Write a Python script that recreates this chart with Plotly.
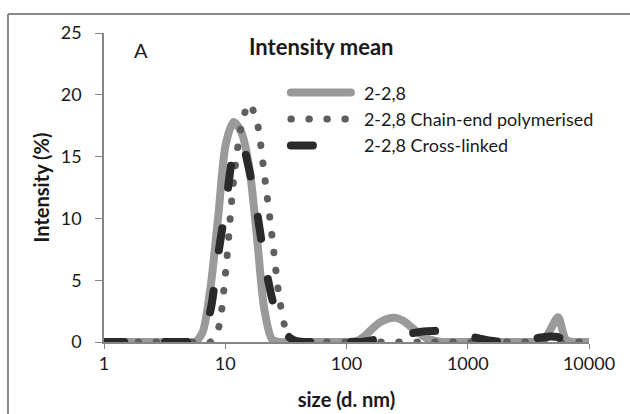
import plotly.graph_objects as go

# DLS size bins (d. nm)
sizes = [0.9649, 1.117, 1.294, 1.499, 1.736, 2.010, 2.328, 2.696, 3.122, 3.615,
         4.187, 4.849, 5.615, 6.503, 7.531, 8.721, 10.10, 11.70, 13.54, 15.69,
         18.17, 21.04, 24.36, 28.21, 32.67, 37.84, 43.82, 50.75, 58.77, 68.06,
         78.82, 91.28, 105.7, 122.4, 141.8, 164.2, 190.1, 220.2, 255.0, 295.3,
         342.0, 396.1, 458.7, 531.2, 615.1, 712.4, 825.0, 955.4, 1106, 1281,
         1484, 1718, 1990, 2305, 2669, 3091, 3580, 4145, 4801, 5560,
         6439, 7456, 8635, 10000]

# Intensity (%)
plain = [0, 0, 0, 0, 0, 0, 0, 0, 0, 0,
         0, 0, 0, 0.8, 4.3, 10.0, 16.0, 17.8, 17.0, 14.3,
         8.7, 2.6, 0.2, 0, 0, 0, 0, 0, 0, 0,
         0, 0, 0, 0.1, 0.5, 1.1, 1.6, 1.9, 1.95, 1.7,
         1.2, 0.7, 0.3, 0.1, 0, 0, 0, 0, 0, 0,
         0, 0, 0, 0, 0, 0, 0, 0, 1.0, 2.0,
         0.2, 0, 0, 0]

chain_end = [0, 0, 0, 0, 0, 0, 0, 0, 0, 0,
             0, 0, 0, 0, 0, 1.0, 5.8, 13.0, 17.4, 19.3,
             17.9, 13.5, 8.5, 3.3, 0.6, 0, 0, 0, 0, 0,
             0, 0, 0, 0, 0, 0, 0, 0, 0, 0,
             0, 0, 0, 0, 0, 0, 0, 0, 0, 0,
             0, 0, 0, 0, 0, 0, 0, 0, 0, 0,
             0, 0, 0, 0]

cross_linked = [0, 0, 0, 0, 0, 0, 0, 0, 0, 0,
                0, 0, 0.1, 0.7, 2.5, 7.0, 11.0, 15.2, 16.2, 14.0,
                10.7, 6.6, 3.5, 1.4, 0.5, 0.1, 0, 0, 0, 0,
                0, 0, 0, 0, 0.05, 0.15, 0.3, 0.42, 0.5, 0.6,
                0.7, 0.8, 0.88, 0.9, 0.9, 0.85, 0.7, 0.55, 0.4, 0.25,
                0.12, 0.05, 0, 0, 0.1, 0.2, 0.3, 0.38, 0.45, 0.4,
                0.1, 0, 0, 0]

names = ["2-2,8", "2-2,8 Chain-end polymerised", "2-2,8 Cross-linked"]
x_ticks = [1, 10, 100, 1000, 10000]
x_ticklabels = ["1", "10", "100", "1000", "10000"]

FONT = "Lato, 'Open Sans', sans-serif"
TXT = "#1a1a1a"

fig = go.Figure()
fig.add_trace(go.Scatter(x=sizes, y=plain, name=names[0], mode="lines",
                         line=dict(color="#9a9a9a", width=8, shape="spline", smoothing=0.8)))
fig.add_trace(go.Scatter(x=sizes, y=chain_end, name=names[1], mode="lines",
                         line=dict(color="#5e5e5e", width=7, shape="spline", smoothing=0.8,
                                   dash="0.5px,17.5px")))
fig.add_trace(go.Scatter(x=sizes, y=cross_linked, name=names[2], mode="lines",
                         line=dict(color="#2a2a2a", width=8, shape="spline", smoothing=0.8,
                                   dash="22px,41px")))

fig.update_layout(
    width=630, height=414,
    margin=dict(l=104, r=41, t=33, b=72),
    paper_bgcolor="white", plot_bgcolor="white",
    font=dict(family=FONT, size=18, color=TXT),
    showlegend=True,
    legend=dict(x=0.375, y=0.866, xanchor="left", yanchor="top",
                bgcolor="rgba(0,0,0,0)", itemwidth=68,
                font=dict(family=FONT, size=18, color=TXT),
                tracegroupgap=0),
    xaxis=dict(type="log", range=[0, 4], tickvals=x_ticks, ticktext=x_ticklabels,
               automargin=False,
               showgrid=False, zeroline=False, showline=True, linecolor="#868686",
               linewidth=1.5, ticks="outside", ticklen=5, tickcolor="#868686",
               layer="below traces",
               tickfont=dict(family=FONT, size=18, color=TXT),
               title=dict(text="<b>size (d. nm)</b>", standoff=20,
                          font=dict(family=FONT, size=20, color=TXT))),
    yaxis=dict(range=[0, 25], dtick=5, showgrid=False, zeroline=False, showline=True,
               automargin=False,
               linecolor="#868686", linewidth=1.5, ticks="outside", ticklen=7,
               tickcolor="#868686", layer="below traces",
               ticklabelstandoff=10,
               tickfont=dict(family=FONT, size=18, color=TXT),
               title=dict(text="<b>Intensity (%)</b>", standoff=6,
                          font=dict(family=FONT, size=20, color=TXT))),
    annotations=[
        dict(text="A", xref="paper", yref="paper", x=0.076, y=0.945,
             xanchor="center", yanchor="middle",
             showarrow=False, font=dict(family=FONT, size=20, color=TXT)),
        dict(text="<b>Intensity mean</b>", xref="paper", yref="paper", x=0.447, y=0.955,
             xanchor="center", yanchor="middle",
             showarrow=False, font=dict(family=FONT, size=22, color=TXT)),
    ],
    shapes=[
        dict(type="line", xref="paper", yref="paper", x0=-0.198, x1=1.2,
             y0=1.0615, y1=1.0615, line=dict(color="#8a8a8a", width=2)),
        dict(type="line", xref="paper", yref="paper", x0=-0.198, x1=-0.198,
             y0=1.0615, y1=-0.3, line=dict(color="#8a8a8a", width=2)),
    ],
)

post = """
document.body.style.margin = '0';
document.querySelectorAll('path.js-line').forEach(function(p){
  p.style.strokeLinecap = 'round';
});
document.querySelectorAll('.legend .legendlines path.js-line').forEach(function(p){
  p.setAttribute('d', 'M5,0h60');
});
"""

fig.write_html("out.html", post_script=post, config={"displayModeBar": False})
